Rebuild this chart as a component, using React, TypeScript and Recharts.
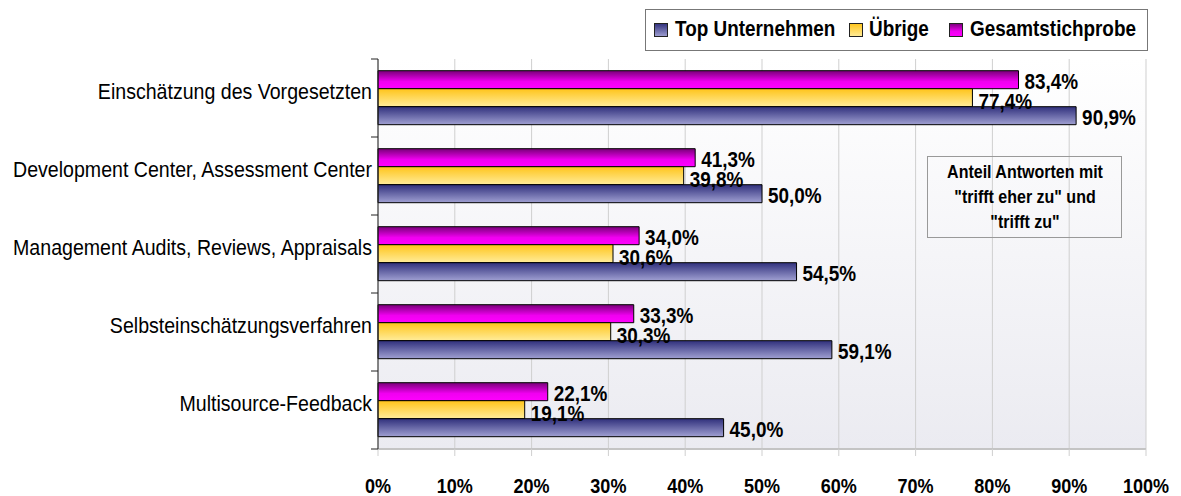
import React from 'react'
import { BarChart, Bar, XAxis, YAxis, CartesianGrid, LabelList } from 'recharts'

// Values (percent)
const categories = [
  'Einschätzung des Vorgesetzten',
  'Development Center, Assessment Center',
  'Management Audits, Reviews, Appraisals',
  'Selbsteinschätzungsverfahren',
  'Multisource-Feedback',
]
const topUnternehmen = [90.9, 50.0, 54.5, 59.1, 45.0]
const uebrige = [77.4, 39.8, 30.6, 30.3, 19.1]
const gesamt = [83.4, 41.3, 34.0, 33.3, 22.1]
const xTicks = [0, 10, 20, 30, 40, 50, 60, 70, 80, 90, 100]
const noteLines = ['Anteil Antworten mit', '"trifft eher zu" und', '"trifft zu"']

const data = categories.map((name, i) => ({
  name,
  top: topUnternehmen[i],
  uebrige: uebrige[i],
  gesamt: gesamt[i],
}))

const W = 1165
const H = 488
const PLOT_LEFT = 370
const PLOT_TOP = 51
const PLOT_BOTTOM = 441
const BAND = (PLOT_BOTTOM - PLOT_TOP) / categories.length

const FONT = '"Liberation Sans", Arial, Helvetica, sans-serif'

const fmt = (v: number) => v.toFixed(1).replace('.', ',') + '%'

// Text squeezed horizontally to mimic a narrow face
const NText = ({ x, y, sx = 0.86, size = 22, bold = true, anchor = 'start', children }: any) => (
  <text
    transform={`translate(${x},${y}) scale(${sx},1)`}
    textAnchor={anchor}
    fontFamily={FONT}
    fontWeight={bold ? 'bold' : 'normal'}
    fontSize={size}
    fill="#000"
  >
    {children}
  </text>
)

const CatTick = (props: any) => {
  const { y, payload, index } = props
  return (
    <g>
      <NText x={PLOT_LEFT - 6} y={y + 1} sx={0.89} size={22} bold={false} anchor="end">
        {payload.value}
      </NText>
      {index === 0 && <line x1={PLOT_LEFT - 7} x2={PLOT_LEFT} y1={y - BAND / 2} y2={y - BAND / 2} stroke="#222" />}
      <line x1={PLOT_LEFT - 7} x2={PLOT_LEFT} y1={y + BAND / 2} y2={y + BAND / 2} stroke="#222" />
    </g>
  )
}

const PctTick = (props: any) => {
  const { x, payload } = props
  return (
    <NText x={x} y={PLOT_BOTTOM + 44} size={21} anchor="middle">
      {payload.value}%
    </NText>
  )
}

const makeLabel = (offset: number) => (props: any) => {
  const { x, y, width, height, value } = props
  return (
    <NText x={x + width + 6} y={y + height / 2 + offset + 8} size={22}>
      {fmt(value)}
    </NText>
  )
}

const legendItems = [
  { label: 'Top Unternehmen', grad: 'gBlue', icon: 646, text: 667 },
  { label: 'Übrige', grad: 'gYellow', icon: 841, text: 861 },
  { label: 'Gesamtstichprobe', grad: 'gMagenta', icon: 941, text: 962 },
]

export default function App() {
  return (
    <div style={{ position: 'relative', width: W, height: H }}>
      <BarChart
        width={W}
        height={H}
        data={data}
        layout="vertical"
        margin={{ top: PLOT_TOP, right: W - 1138, left: 0, bottom: 0 }}
        barCategoryGap="15%"
        barGap={0}
      >
        <defs>
          <linearGradient id="bg" x1="0" y1="0" x2="0" y2="1">
            <stop offset="0%" stopColor="#ffffff" />
            <stop offset="100%" stopColor="#ebebf1" />
          </linearGradient>
          <linearGradient id="gBlue" x1="0" y1="0" x2="0" y2="1">
            <stop offset="0%" stopColor="#30307c" />
            <stop offset="100%" stopColor="#a0a0d2" />
          </linearGradient>
          <linearGradient id="gYellow" x1="0" y1="0" x2="0" y2="1">
            <stop offset="0%" stopColor="#ffc41a" />
            <stop offset="100%" stopColor="#ffec9a" />
          </linearGradient>
          <linearGradient id="gMagenta" x1="0" y1="0" x2="0" y2="1">
            <stop offset="0%" stopColor="#780078" />
            <stop offset="60%" stopColor="#f000f0" />
            <stop offset="100%" stopColor="#ff00ff" />
          </linearGradient>
        </defs>
        <CartesianGrid horizontal={false} stroke="#cfcfcf" fill="url(#bg)" />
        <XAxis
          type="number"
          domain={[0, 100]}
          ticks={xTicks}
          tick={<PctTick />}
          tickLine={{ stroke: '#cfcfcf' }}
          tickSize={7}
          axisLine={{ stroke: '#c4c4c4', strokeWidth: 2 }}
          height={H - PLOT_BOTTOM}
          interval={0}
        />
        <YAxis
          type="category"
          dataKey="name"
          width={PLOT_LEFT}
          tick={<CatTick />}
          tickLine={false}
          axisLine={{ stroke: '#222' }}
          interval={0}
        />
        <Bar dataKey="gesamt" fill="url(#gMagenta)" stroke="#000" strokeWidth={1} isAnimationActive={false}>
          <LabelList dataKey="gesamt" content={makeLabel(1)} />
        </Bar>
        <Bar dataKey="uebrige" fill="url(#gYellow)" stroke="#000" strokeWidth={1} isAnimationActive={false}>
          <LabelList dataKey="uebrige" content={makeLabel(3)} />
        </Bar>
        <Bar dataKey="top" fill="url(#gBlue)" stroke="#000" strokeWidth={1} isAnimationActive={false}>
          <LabelList dataKey="top" content={makeLabel(1)} />
        </Bar>
      </BarChart>

      {/* legend and note box */}
      <svg width={W} height={H} style={{ position: 'absolute', left: 0, top: 0, pointerEvents: 'none' }}>
        <rect x={637.5} y={1.5} width={502} height={41} fill="#fff" stroke="#777" />
        {legendItems.map((it) => (
          <g key={it.label}>
            <rect x={it.icon + 0.5} y={15.5} width={13} height={13} fill={`url(#${it.grad})`} stroke="#222" />
            <NText x={it.text} y={28} size={22}>
              {it.label}
            </NText>
          </g>
        ))}
        <rect x={919.5} y={148.5} width={194} height={81} fill="none" stroke="#999" />
        {noteLines.map((line, i) => (
          <NText key={line} x={1017} y={170 + i * 25} size={18} sx={0.89} anchor="middle">
            {line}
          </NText>
        ))}
      </svg>
    </div>
  )
}
